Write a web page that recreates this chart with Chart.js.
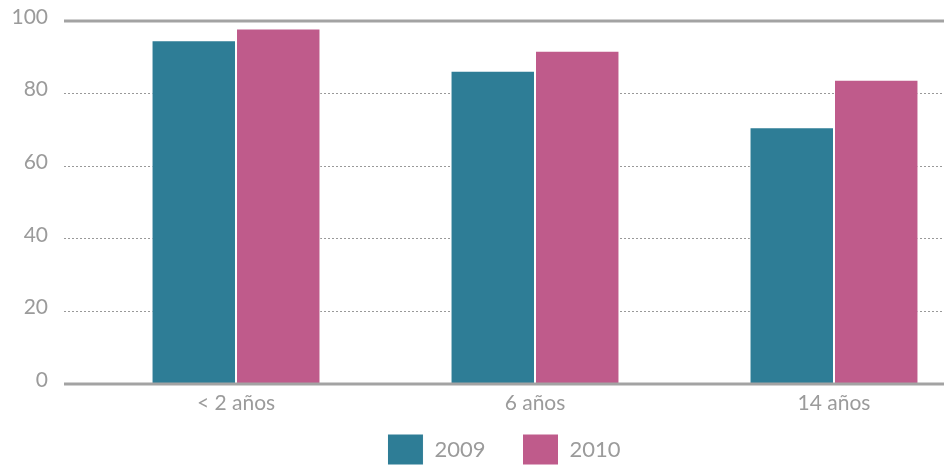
<!DOCTYPE html>
<html><head><meta charset="utf-8">
<script src="https://cdn.jsdelivr.net/npm/chart.js@4.4.1/dist/chart.umd.min.js"></script>
<style>html,body{margin:0;padding:0;background:#fff;overflow:hidden}#wrap{width:944px;height:465px;position:relative}</style>
</head><body><div id="wrap"><canvas id="c"></canvas></div>
<script>
const categories = ['< 2 años', '6 años', '14 años'];
const series2009 = [94.7, 86.3, 70.7];
const series2010 = [97.9, 91.8, 83.8];
const seriesLabels = ['2009', '2010'];
const yTicks = [0, 20, 40, 60, 80, 100];

const grey = '#9b9b9b';
const fontFam = 'Lato, "Open Sans", sans-serif';

const frameLines = {
  id: 'frameLines',
  afterDatasetsDraw(chart) {
    const {ctx, chartArea, scales} = chart;
    ctx.save();
    ctx.strokeStyle = '#a3a3a3';
    ctx.lineWidth = 3;
    [0, 100].forEach(v => {
      const y = scales.y.getPixelForValue(v);
      ctx.beginPath();
      ctx.moveTo(chartArea.left, y);
      ctx.lineTo(chartArea.right, y);
      ctx.stroke();
    });
    ctx.restore();
  }
};

new Chart(document.getElementById('c'), {
  type: 'bar',
  data: {
    datasets: [
      {label: seriesLabels[0], data: series2009.map((v, i) => ({x: i, y: v})), backgroundColor: '#2e7d96', borderColor: '#ffffff', borderWidth: 1, borderSkipped: 'bottom'},
      {label: seriesLabels[1], data: series2010.map((v, i) => ({x: i, y: v})), backgroundColor: '#bf5b8b', borderColor: '#ffffff', borderWidth: 1, borderSkipped: 'bottom'}
    ]
  },
  options: {
    responsive: true,
    maintainAspectRatio: false,
    animation: false,
    categoryPercentage: 0.565,
    barPercentage: 1,
    layout: {padding: {top: 21, right: 0, left: 0, bottom: -10}},
    plugins: {
      tooltip: {enabled: false},
      legend: {
        position: 'bottom',
        fullSize: false,
        labels: {boxWidth: 36, boxHeight: 31, padding: 37, color: grey, font: {family: fontFam, size: 22}}
      }
    },
    scales: {
      x: {
        type: 'linear',
        offset: false,
        min: -0.5753,
        max: 2.3679,
        afterBuildTicks: s => { s.ticks = categories.map((c, i) => ({value: i})); },
        afterFit: s => { s.height = 13; s._computeLabelArea = () => undefined; },
        grid: {display: false, offset: false},
        border: {display: false},
        ticks: {
          color: grey, padding: -1, font: {family: fontFam, size: 21},
          autoSkip: false, maxRotation: 0,
          callback: v => categories[v]
        }
      },
      y: {
        min: 0, max: 100,
        afterBuildTicks: s => { s.ticks = yTicks.map(v => ({value: v})); },
        afterFit: s => { s.width = 64; s.paddingTop = 0; s.paddingBottom = 0; },
        border: {display: false, dash: [2, 2]},
        grid: {
          drawTicks: false,
          color: '#999999',
          lineWidth: c => (c.tick && (c.tick.value === 0 || c.tick.value === 100)) ? 0 : 1
        },
        ticks: {color: grey, padding: 16, labelOffset: -4, font: {family: fontFam, size: 21}}
      }
    }
  },
  plugins: [frameLines]
});
</script>
</body></html>
